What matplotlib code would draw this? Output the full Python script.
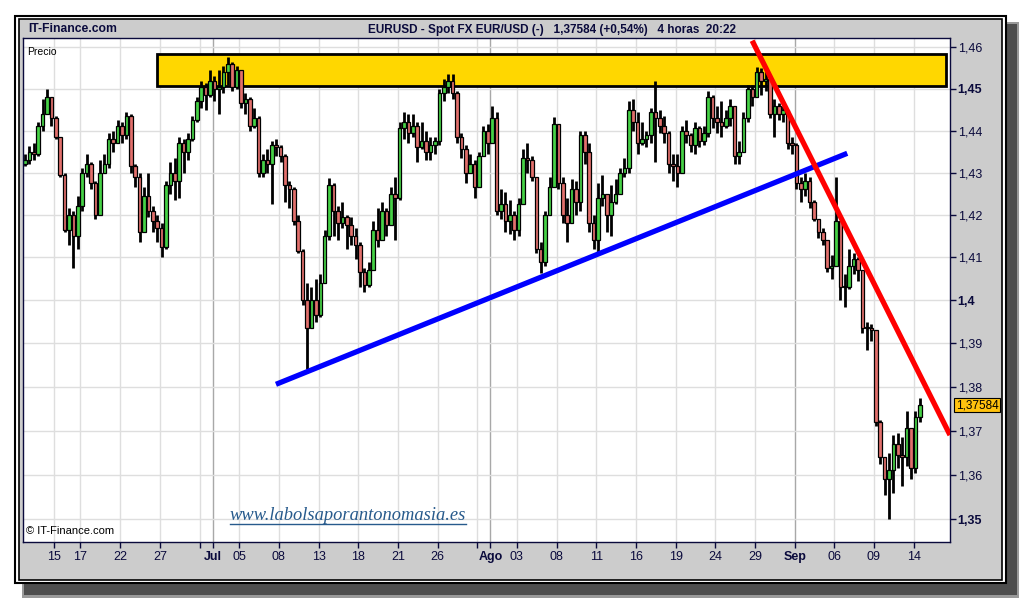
import numpy as np
import matplotlib.pyplot as plt
from matplotlib.patches import Rectangle
from matplotlib.lines import Line2D
from matplotlib.ticker import FixedLocator, NullLocator
import matplotlib.transforms as mtransforms

plt.rcParams['font.family'] = ['Liberation Sans', 'DejaVu Sans']

# 4-hour EURUSD candles (about 3 per trading day)
close = [1.4330, 1.4350, 1.4345, 1.4410, 1.4440, 1.4480, 1.4430, 1.4385, 1.4295, 1.4165,
         1.4200, 1.4150, 1.4220, 1.4300, 1.4320, 1.4275, 1.4200, 1.4300, 1.4320, 1.4380,
         1.4370, 1.4410, 1.4390, 1.4435, 1.4315, 1.4290, 1.4160, 1.4245, 1.4210, 1.4185,
         1.4170, 1.4125, 1.4270, 1.4300, 1.4280, 1.4370, 1.4350, 1.4380, 1.4425, 1.4470,
         1.4505, 1.4485, 1.4520, 1.4500, 1.4505, 1.4540, 1.4560, 1.4505, 1.4545, 1.4465,
         1.4475, 1.4410, 1.4430, 1.4300, 1.4330, 1.4320, 1.4365, 1.4360, 1.4340, 1.4270,
         1.4260, 1.4185, 1.4115, 1.4000, 1.3935, 1.4000, 1.3965, 1.4040, 1.4150, 1.4270,
         1.4210, 1.4180, 1.4195, 1.4175, 1.4150, 1.4130, 1.4065, 1.4035, 1.4070, 1.4165,
         1.4140, 1.4210, 1.4175, 1.4250, 1.4240, 1.4405, 1.4420, 1.4395, 1.4410, 1.4360,
         1.4375, 1.4350, 1.4365, 1.4375, 1.4490, 1.4505, 1.4520, 1.4490, 1.4385, 1.4355,
         1.4300, 1.4320, 1.4265, 1.4340, 1.4400, 1.4370, 1.4430, 1.4210, 1.4225, 1.4185,
         1.4200, 1.4165, 1.4225, 1.4335, 1.4330, 1.4290, 1.4120, 1.4090, 1.4200, 1.4265,
         1.4415, 1.4275, 1.4200, 1.4180, 1.4260, 1.4230, 1.4390, 1.4350, 1.4180, 1.4140,
         1.4240, 1.4250, 1.4200, 1.4230, 1.4250, 1.4300, 1.4310, 1.4450, 1.4420, 1.4370,
         1.4380, 1.4390, 1.4445, 1.4430, 1.4410, 1.4395, 1.4320, 1.4315, 1.4300, 1.4400,
         1.4390, 1.4365, 1.4405, 1.4375, 1.4395, 1.4480, 1.4430, 1.4420, 1.4410, 1.4430,
         1.4460, 1.4340, 1.4350, 1.4430, 1.4500, 1.4480, 1.4540, 1.4520, 1.4525, 1.4440,
         1.4460, 1.4440, 1.4450, 1.4370, 1.4365, 1.4275, 1.4260, 1.4280, 1.4230, 1.4190,
         1.4160, 1.4140, 1.4075, 1.4080, 1.4185, 1.4030, 1.4030, 1.4080, 1.4095, 1.4070,
         1.3935, 1.3935, 1.3930, 1.3720, 1.3640, 1.3590, 1.3610, 1.3670, 1.3645, 1.3640,
         1.3705, 1.3615, 1.3730, 1.3758]
high = [1.4345, 1.4362, 1.4370, 1.4420, 1.4475, 1.4500, 1.4480, 1.4435, 1.4385, 1.4300,
        1.4215, 1.4210, 1.4245, 1.4310, 1.4345, 1.4325, 1.4280, 1.4330, 1.4345, 1.4395,
        1.4400, 1.4425, 1.4420, 1.4445, 1.4440, 1.4320, 1.4300, 1.4265, 1.4300, 1.4220,
        1.4200, 1.4180, 1.4280, 1.4325, 1.4335, 1.4385, 1.4380, 1.4395, 1.4435, 1.4480,
        1.4520, 1.4515, 1.4545, 1.4530, 1.4545, 1.4555, 1.4578, 1.4565, 1.4555, 1.4510,
        1.4490, 1.4480, 1.4455, 1.4435, 1.4345, 1.4355, 1.4375, 1.4380, 1.4365, 1.4345,
        1.4280, 1.4265, 1.4200, 1.4120, 1.4040, 1.4030, 1.4050, 1.4060, 1.4165, 1.4287,
        1.4275, 1.4220, 1.4230, 1.4200, 1.4195, 1.4170, 1.4135, 1.4075, 1.4090, 1.4185,
        1.4215, 1.4230, 1.4215, 1.4265, 1.4290, 1.4420, 1.4445, 1.4440, 1.4440, 1.4420,
        1.4420, 1.4400, 1.4385, 1.4385, 1.4500, 1.4525, 1.4535, 1.4535, 1.4495, 1.4395,
        1.4365, 1.4345, 1.4330, 1.4350, 1.4410, 1.4415, 1.4460, 1.4445, 1.4260, 1.4255,
        1.4235, 1.4210, 1.4240, 1.4355, 1.4370, 1.4340, 1.4290, 1.4135, 1.4210, 1.4290,
        1.4432, 1.4400, 1.4290, 1.4240, 1.4285, 1.4280, 1.4400, 1.4400, 1.4370, 1.4200,
        1.4275, 1.4295, 1.4250, 1.4270, 1.4285, 1.4310, 1.4335, 1.4470, 1.4475, 1.4445,
        1.4420, 1.4400, 1.4455, 1.4520, 1.4450, 1.4435, 1.4400, 1.4345, 1.4345, 1.4410,
        1.4425, 1.4395, 1.4420, 1.4410, 1.4410, 1.4495, 1.4485, 1.4460, 1.4470, 1.4450,
        1.4475, 1.4460, 1.4375, 1.4445, 1.4510, 1.4510, 1.4553, 1.4550, 1.4545, 1.4525,
        1.4475, 1.4465, 1.4460, 1.4450, 1.4385, 1.4370, 1.4290, 1.4300, 1.4290, 1.4235,
        1.4175, 1.4170, 1.4140, 1.4105, 1.4290, 1.4185, 1.4060, 1.4120, 1.4110, 1.4100,
        1.4065, 1.3950, 1.3945, 1.3930, 1.3725, 1.3640, 1.3650, 1.3690, 1.3695, 1.3685,
        1.3745, 1.3690, 1.3745, 1.3775]
low = [1.4315, 1.4320, 1.4330, 1.4340, 1.4400, 1.4440, 1.4410, 1.4380, 1.4290, 1.4160,
       1.4130, 1.4075, 1.4120, 1.4210, 1.4290, 1.4260, 1.4190, 1.4200, 1.4300, 1.4310,
       1.4350, 1.4370, 1.4370, 1.4380, 1.4300, 1.4265, 1.4135, 1.4160, 1.4195, 1.4160,
       1.4135, 1.4100, 1.4120, 1.4250, 1.4235, 1.4240, 1.4300, 1.4330, 1.4375, 1.4420,
       1.4455, 1.4450, 1.4480, 1.4470, 1.4440, 1.4490, 1.4510, 1.4495, 1.4500, 1.4455,
       1.4440, 1.4400, 1.4405, 1.4290, 1.4290, 1.4300, 1.4225, 1.4340, 1.4325, 1.4230,
       1.4215, 1.4175, 1.4110, 1.3990, 1.3840, 1.3940, 1.3950, 1.3960, 1.4040, 1.4140,
       1.4150, 1.4140, 1.4170, 1.4120, 1.4130, 1.4095, 1.4030, 1.4020, 1.4030, 1.4070,
       1.4125, 1.4160, 1.4150, 1.4180, 1.4140, 1.4235, 1.4380, 1.4370, 1.4385, 1.4325,
       1.4355, 1.4330, 1.4330, 1.4345, 1.4365, 1.4470, 1.4490, 1.4475, 1.4370, 1.4335,
       1.4275, 1.4300, 1.4240, 1.4265, 1.4340, 1.4345, 1.4370, 1.4200, 1.4190, 1.4160,
       1.4155, 1.4140, 1.4150, 1.4225, 1.4300, 1.4280, 1.4110, 1.4063, 1.4080, 1.4200,
       1.4270, 1.4260, 1.4180, 1.4135, 1.4180, 1.4200, 1.4210, 1.4320, 1.4160, 1.4120,
       1.4110, 1.4220, 1.4160, 1.4150, 1.4225, 1.4250, 1.4290, 1.4300, 1.4400, 1.4345,
       1.4365, 1.4360, 1.4370, 1.4325, 1.4395, 1.4370, 1.4300, 1.4280, 1.4265, 1.4300,
       1.4370, 1.4350, 1.4345, 1.4360, 1.4365, 1.4385, 1.4405, 1.4395, 1.4385, 1.4405,
       1.4410, 1.4320, 1.4320, 1.4360, 1.4420, 1.4460, 1.4480, 1.4485, 1.4495, 1.4430,
       1.4385, 1.4425, 1.4420, 1.4355, 1.4345, 1.4260, 1.4230, 1.4245, 1.4215, 1.4185,
       1.4145, 1.4130, 1.4065, 1.4050, 1.4085, 1.4000, 1.3985, 1.4025, 1.4060, 1.4045,
       1.3925, 1.3885, 1.3905, 1.3710, 1.3625, 1.3555, 1.3500, 1.3560, 1.3615, 1.3575,
       1.3620, 1.3590, 1.3605, 1.3720]
first_open = 1.4320
last_price = 1.37584

# x axis is in trading days, 0 = 15 Jun
tick_days = [0, 2, 5, 8, 11, 12, 14, 17, 20, 23, 26, 29, 32, 33, 35, 38, 41,
             44, 47, 50, 53, 56, 59, 62, 65]
tick_labels = ['15', '17', '22', '27', '', 'Jul', '05', '08', '13', '18', '21',
               '26', '', 'Ago', '03', '08', '11', '16', '19', '24', '29', 'Sep',
               '06', '09', '14']
months = ['Jul', 'Ago', 'Sep']
price_ticks = [1.35, 1.36, 1.37, 1.38, 1.39, 1.40, 1.41, 1.42, 1.43, 1.44, 1.45, 1.46]
price_labels = ['1,35', '1,36', '1,37', '1,38', '1,39', '1,4', '1,41', '1,42',
                '1,43', '1,44', '1,45', '1,46']
bold_prices = ['1,35', '1,4', '1,45']

# drawn analysis: resistance band and the two trend lines (day, price)
band_days = [7.79, 67.42]
band_prices = [1.4507, 1.4584]
support_days = [16.78, 59.98]
support_prices = [1.38058, 1.43457]
down_days = [52.79, 67.75]
down_prices = [1.46165, 1.3690]

W, H = 1020, 600
navy = '#0a0a3c'
fig = plt.figure(figsize=(W / 100, H / 100), dpi=100)
fig.patch.set_facecolor('white')


def frect(x0, y0, x1, y1, **kw):
    # rectangle in pixel coords of the figure (y down)
    r = Rectangle((x0 / W, 1 - y1 / H), (x1 - x0) / W, (y1 - y0) / H,
                  transform=fig.transFigure, **kw)
    fig.add_artist(r)
    return r


# drop shadow and double framed gray panel
frect(22, 22, 1020, 598, facecolor='#9a9a9a', edgecolor='none', zorder=-5)
frect(24, 24, 1017, 595, facecolor='#4e4e4e', edgecolor='none', zorder=-4)
frect(15.5, 15.5, 1006, 583, facecolor='white', edgecolor='black', lw=1.5, zorder=-3)
frect(19, 19, 1002.5, 579.5, facecolor='#cccccc', edgecolor='black', lw=1.2, zorder=-2)

fig.text(28 / W, 1 - 29.5 / H, 'IT-Finance.com', fontsize=8.7, fontweight='bold',
         color=navy, va='center', ha='left')
fig.text(368 / W, 1 - 29.5 / H,
         'EURUSD - Spot FX EUR/USD (-)   1,37584 (+0,54%)   4 horas  20:22',
         fontsize=8.5, fontweight='bold', color=navy, va='center', ha='left')

ax = fig.add_axes([22.7 / W, 1 - 542 / H, (950 - 22.7) / W, (542 - 38.3) / H])
ax.set_facecolor('white')
ax.set_yscale('log')
ax.set_xlim(-2.37, 67.75)
ax.set_ylim(1.34490, 1.46223)

# grid
for d, lab in zip(tick_days, tick_labels):
    ax.axvline(d, color='#a8a8a8' if lab in months else '#dedede', lw=1, zorder=0.5)
for p in price_ticks:
    ax.axhline(p, color='#dedede', lw=1, zorder=0.5)

# resistance band
ax.add_patch(Rectangle((band_days[0], band_prices[0]), band_days[1] - band_days[0],
                       band_prices[1] - band_prices[0], facecolor='#ffd700',
                       edgecolor='black', lw=2, zorder=1))

# candles
c = np.array(close)
o = np.array([first_open] + close[:-1])
hi = np.array(high)
lo = np.array(low)
t = np.arange(len(c)) / 3 - 2.2
up = c >= o
ax.vlines(t, lo, hi, color='black', lw=2.0, zorder=2)
body_lo = np.minimum(o, c)
body_h = np.maximum(np.abs(c - o), 0.0002)
ax.bar(t, body_h, bottom=body_lo, width=0.27,
       color=np.where(up, '#46d246', '#e2706c'), edgecolor='black', lw=0.9, zorder=2.5)

# trend lines
ax.plot(support_days, support_prices, color='#0000ff', lw=3.8, solid_capstyle='butt', zorder=3)
ax.plot(down_days, down_prices, color='#ff0000', lw=3.8, solid_capstyle='butt', zorder=3)

# axes styling
for s in ax.spines.values():
    s.set_color(navy)
    s.set_linewidth(1)
ax.yaxis.tick_right()
ax.yaxis.set_major_locator(FixedLocator(price_ticks))
ax.yaxis.set_minor_locator(NullLocator())
ax.set_yticklabels(price_labels)
ax.set_xticks(tick_days)
ax.set_xticklabels(tick_labels)
ax.tick_params(axis='y', direction='out', length=4, pad=1.5, labelsize=9,
               colors=navy, width=1)
ax.tick_params(axis='x', direction='out', length=4, pad=2.5, labelsize=9,
               colors=navy, width=1)
for lbl in ax.get_yticklabels():
    if lbl.get_text() in bold_prices:
        lbl.set_fontweight('bold')
for lbl in ax.get_xticklabels():
    if lbl.get_text() in months:
        lbl.set_fontweight('bold')

# last price box
trans = mtransforms.blended_transform_factory(ax.transAxes, ax.transData)
ax.text(1.006, last_price, '1,37584', transform=trans, fontsize=8.5, color='black',
        va='center', ha='left', clip_on=False,
        bbox=dict(boxstyle='square,pad=0.12', facecolor='#ffc20e', edgecolor='black', lw=0.8))

ax.text(0.005, 0.982, 'Precio', transform=ax.transAxes, fontsize=7.5, color='black',
        va='top', ha='left')
ax.text(0.004, 0.012, '\u00a9 IT-Finance.com', transform=ax.transAxes, fontsize=8,
        color='black', va='bottom', ha='left')

# watermark link
fig.text(230 / W, 1 - 520 / H, 'www.labolsaporantonomasia.es', fontsize=13.3,
         family='Liberation Serif', style='italic', color='#275a8c',
         ha='left', va='baseline')
fig.add_artist(Line2D([230 / W, 466 / W], [1 - 523.5 / H, 1 - 523.5 / H],
                      transform=fig.transFigure, color='#275a8c', lw=1))

fig.savefig('out.png', dpi=100)
